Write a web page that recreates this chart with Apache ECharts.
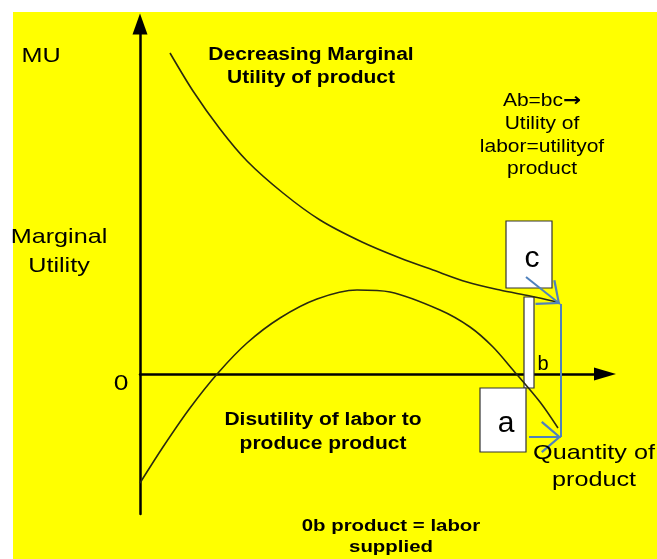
<!DOCTYPE html>
<html>
<head>
<meta charset="utf-8">
<script src="https://cdn.jsdelivr.net/npm/echarts@6/dist/echarts.min.js"></script>
<style>
  html, body { margin: 0; padding: 0; background: #fff; }
  #wrap { position: relative; width: 657px; height: 559px; overflow: hidden; background: #fff; }
  #paper { position: absolute; left: 13px; top: 12px; right: 0; bottom: 0; background: #ffff00; }
  #chart { position: absolute; left: 0; top: 0; width: 657px; height: 559px; }
</style>
</head>
<body>
<div id="wrap">
  <div id="paper"></div>
  <div id="chart"></div>
</div>
<script>
// curves, x = quantity, y = marginal utility (arbitrary units)
var utilityCurve = [
  [3.0, 32.1], [5.3, 28.3], [8.0, 24.5], [10.7, 21.3], [14.3, 18.1], [18.0, 15.4],
  [22.2, 13.2], [26.0, 11.6], [29.3, 10.4], [32.7, 9.2], [36.0, 8.4], [39.0, 7.8], [41.7, 7.2]
];
var laborCurve = [
  [0, -10.9], [2.3, -7.3], [5.0, -3.4], [7.8, 0.1], [10.7, 3.1], [14.0, 5.6], [17.7, 7.5],
  [21.7, 8.4], [25.0, 8.2], [30.0, 6.4], [33.0, 4.7], [35.3, 2.7], [37.3, 0.4], [40.0, -2.8], [41.8, -5.4]
];
// boxes: [corner1, corner2]
var boxC = [[36.6, 15.3], [41.2, 8.6]];
var boxA = [[34.0, -1.4], [38.6, -7.8]];
var barB = [[38.4, 7.7], [39.4, -1.4]];
// blue arrows
var arrowC = [[38.6, 9.7], [42.0, 7.0]];
var arrowA = [[38.9, -6.3], [42.1, -6.3]];
var linkLine = [[42.1, 7.0], [42.1, -6.3]];

var xRange = [0, 46.5];
var yRange = [-14, 35];

// open arrow head, tip at the centre of the box
var chevron = 'path://M13,0 L13.01,0 L13.01,0.01 Z M13,16 L26,31 L24.6,32.2 L13,18.6 L1.4,32.2 L0,31 Z';

var chart = echarts.init(document.getElementById('chart'));

function txt(str, x, y, size, bold, sx, rich) {
  return {
    type: 'text', x: x, y: y, scaleX: sx || 1.2, z: 50,
    style: {
      text: str, fill: '#000', align: 'center', verticalAlign: 'middle',
      font: (bold ? 'bold ' : '') + size + 'px "Liberation Sans", Arial, sans-serif',
      rich: rich
    }
  };
}

function box(corners, name) {
  return [{ coord: corners[0], name: name }, { coord: corners[1] }];
}

chart.setOption({
  backgroundColor: 'transparent',
  animation: false,
  grid: { left: 140, right: 52, top: 24, bottom: 45 },
  xAxis: {
    type: 'value', min: xRange[0], max: xRange[1],
    axisLine: { show: true, onZero: true, symbol: ['none', 'triangle'], symbolSize: [13, 22],
      lineStyle: { color: '#000', width: 2.5 } },
    axisTick: { show: false }, axisLabel: { show: false }, splitLine: { show: false }
  },
  yAxis: {
    type: 'value', min: yRange[0], max: yRange[1],
    axisLine: { show: true, symbol: ['none', 'triangle'], symbolSize: [15, 21],
      lineStyle: { color: '#000', width: 2.5 } },
    axisTick: { show: false }, axisLabel: { show: false }, splitLine: { show: false }
  },
  series: [
    {
      type: 'line', data: utilityCurve, smooth: 0.3, showSymbol: false,
      lineStyle: { color: '#2a2a10', width: 1.6 }, z: 3
    },
    {
      type: 'line', data: laborCurve, smooth: 0.3, showSymbol: false,
      lineStyle: { color: '#2a2a10', width: 1.6 }, z: 3,
      markArea: {
        silent: true,
        itemStyle: { color: '#fff', borderColor: '#333', borderWidth: 1.2 },
        label: { show: false },
        data: [box(barB, '')]
      }
    },
    {
      type: 'line', data: [], z: 6,
      markArea: {
        silent: true,
        itemStyle: { color: '#fff', borderColor: '#333', borderWidth: 1.2 },
        label: {
          show: true, position: 'inside', color: '#000', offset: [3, 4],
          fontFamily: '"Liberation Sans", Arial, sans-serif', fontSize: 30
        },
        data: [box(boxC, 'c'), box(boxA, 'a')]
      }
    },
    {
      type: 'line', data: linkLine, showSymbol: false, z: 8,
      lineStyle: { color: '#4f81bd', width: 2 },
      markLine: {
        silent: true, symbol: ['none', chevron], symbolSize: [32, 40],
        lineStyle: { color: '#4f81bd', width: 2, type: 'solid' },
        itemStyle: { color: '#4f81bd' },
        label: { show: false },
        data: [
          [{ coord: arrowC[0] }, { coord: arrowC[1] }],
          [{ coord: arrowA[0] }, { coord: arrowA[1] }]
        ]
      }
    }
  ],
  graphic: [
    txt('MU', 41, 56, 21, false),
    txt('Decreasing Marginal', 311, 55, 17.5, true),
    txt('Utility of product', 311, 78, 17.5, true),
    txt('Ab=bc{ar|\u2192}', 542, 101, 17.5, false, 1.2,
      { ar: { font: 'bold 18px "DejaVu Sans", sans-serif', fill: '#000' } }),
    txt('Utility of', 542, 124, 17.5, false),
    txt('labor=utilityof', 542, 147, 17.5, false),
    txt('product', 542, 169, 17.5, false),
    txt('Marginal', 59, 237, 21, false),
    txt('Utility', 59, 266, 21, false),
    txt('0', 121, 384, 22, false),
    txt('b', 543, 364, 20, false, 1),
    txt('Disutility of labor to', 323, 420, 17.5, true),
    txt('produce product', 323, 444, 17.5, true),
    txt('Quantity of', 594, 453, 21, false),
    txt('product', 594, 480, 21, false),
    txt('0b product = labor', 391, 526, 17, true),
    txt('supplied', 391, 547, 17, true)
  ]
});
</script>
</body>
</html>
